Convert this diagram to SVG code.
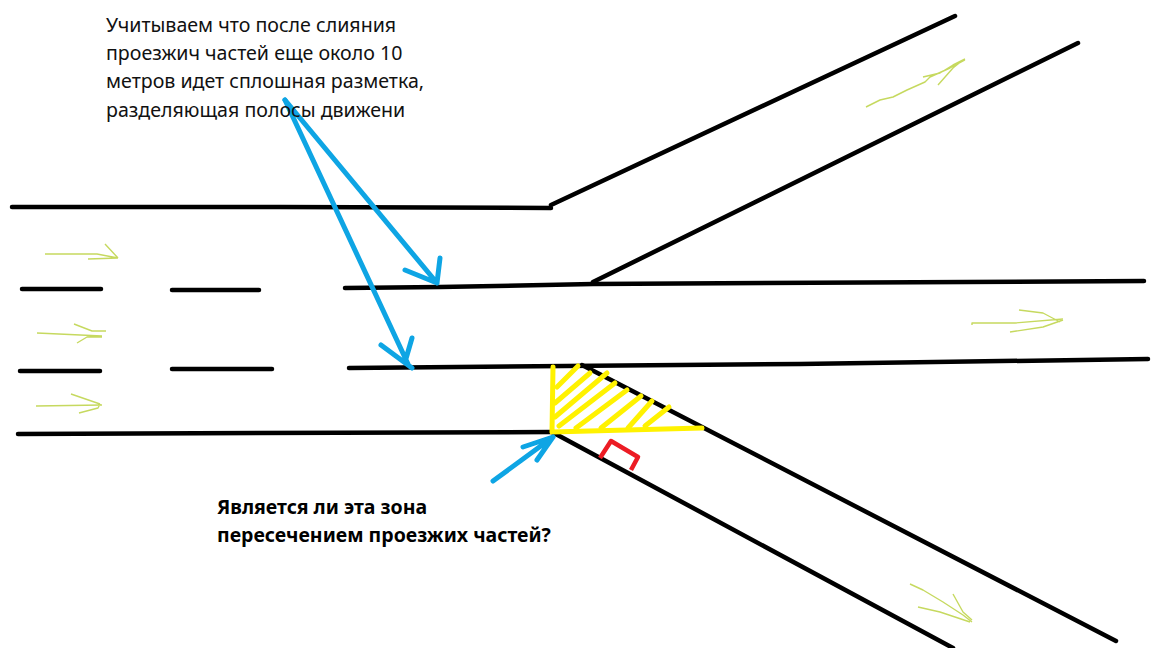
<svg xmlns="http://www.w3.org/2000/svg" width="1152" height="648" viewBox="0 0 1152 648">
<style>
.road{fill:none;stroke:#000;stroke-width:4.5;stroke-linecap:round;stroke-linejoin:round}
.green{fill:none;stroke:#c6d95f;stroke-width:1.4;stroke-linejoin:round}
.blue{fill:none;stroke:#0ea5e4;stroke-width:5;stroke-linecap:round;stroke-linejoin:round}
.yellow{fill:none;stroke:#fff200;stroke-width:5;stroke-linecap:round;stroke-linejoin:round}
.red{fill:none;stroke:#ec1c24;stroke-width:4.5;stroke-linejoin:round}
text{font-family:"Noto Sans","Open Sans","Liberation Sans",sans-serif;font-size:19.6px;fill:#111}
.b{font-weight:700;font-size:19.5px;fill:#000}
</style>
<rect width="1152" height="648" fill="#fff"/>
<g id="roads">
<path class="road" d="M12 207H280L551 208"/>
<path class="road" d="M551 205L955 16"/>
<path class="road" d="M345 288L440 287L593 284L1144 281"/>
<path class="road" d="M593 282L1078 43"/>
<path class="road" d="M349 368L800 364L1148 359"/>
<path class="road" d="M18 434L552 432"/>
<path class="road" d="M552 432L953 648"/>
<path class="road" d="M582 365L1116 641"/>
<path class="road" d="M22 289H101"/>
<path class="road" d="M172 290H259"/>
<path class="road" d="M20 371H100"/>
<path class="road" d="M172 369H272"/>
</g>
<g id="direction-arrows">
<path class="green" d="M45 254H97L118 258M105 244L118 258M88 259L118 258"/>
<path class="green" d="M37 333L102 336M74 324L92 331H106M77 343L87 337L102 337"/>
<path class="green" d="M36 406L102 405M71 394L100 404M79 413L98 408L100 404"/>
<path class="green" d="M866 107L880 100L893 97L907 90L925 82L930 77L950 68L965 60M923 77L940 73L953 65L965 59M938 85L953 68L963 60"/>
<path class="green" d="M972 325V323L1015 323L1063 319M1019 310L1043 313L1060 322M1010 332L1043 327L1063 320"/>
<path class="green" d="M910 584L923 590L943 602L963 615L972 622M918 607L940 612L970 622M953 594L963 612L972 620"/>
</g>
<g id="hatched-zone">
<path class="yellow" d="M553 367L552 432L702 428"/>
<path class="yellow" d="M557 387L578 366M555 403L590 373M555 417L607 373M559 426L615 383M576 428L627 390M601 428L641 396M628 428L652 401M645 426L669 407"/>
</g>
<g id="right-angle"><path class="red" d="M600 458L611 441L638 457L631 470"/></g>
<g id="connectors">
<path class="blue" d="M285 100L437 283M405 270L437 283L440 258"/>
<path class="blue" d="M285 100L408 364M381 345L412 368M412 338L405 362"/>
<path class="blue" d="M493 481L553 437M523 447L553 437L537 460"/>
</g>
<g id="note">
<text x="106" y="32">Учитываем что после слияния</text>
<text x="106" y="60">проезжич частей еще около 10</text>
<text x="106" y="88">метров идет сплошная разметка,</text>
<text x="106" y="117">разделяющая полосы движени</text>
</g>
<g id="question">
<text class="b" x="217" y="514">Является ли эта зона</text>
<text class="b" x="217" y="542">пересечением проезжих частей?</text>
</g>
</svg>
